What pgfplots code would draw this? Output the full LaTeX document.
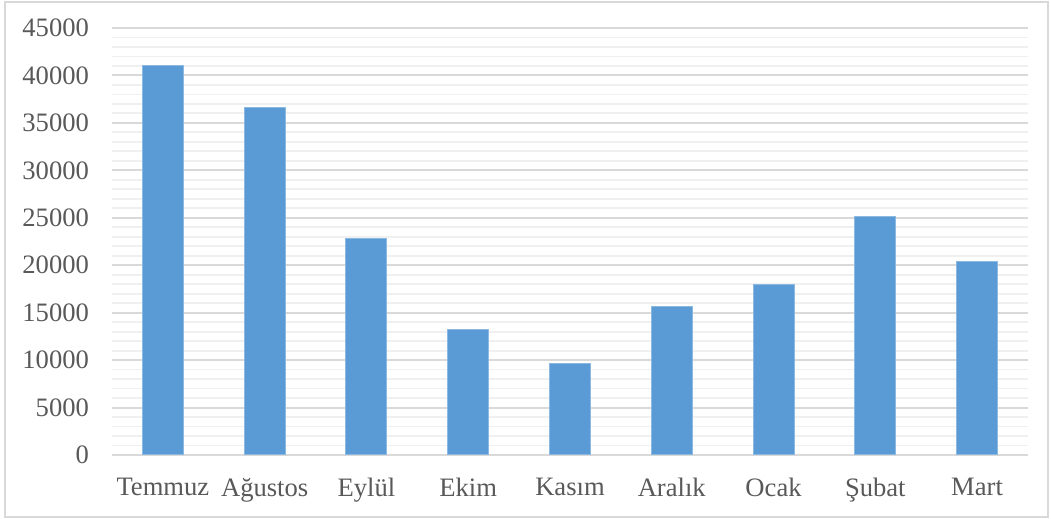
\documentclass[border=0pt]{standalone}
\usepackage{pgfplots}
\pgfplotsset{compat=1.18}
\usepackage{fontspec}
\setmainfont{Liberation Serif}
\definecolor{barblue}{HTML}{5B9BD5}
\definecolor{txtgray}{HTML}{595959}
\definecolor{majgrid}{HTML}{D9D9D9}
\definecolor{mingrid}{HTML}{F0F0F0}
\begin{document}
\begin{tikzpicture}
\useasboundingbox (0,0) rectangle (525.5pt,259.5pt);
\draw[majgrid, line width=0.8pt] (2.5pt,1pt) rectangle (524pt,258.5pt);
\begin{axis}[
  at={(56pt,32pt)}, anchor=south west,
  scale only axis, width=458pt, height=213.5pt,
  xmin=-0.5, xmax=8.5, ymin=0, ymax=45000,
  xtick=data,
  xticklabels={Temmuz, Ağustos, Eylül, Ekim, Kasım, Aralık, Ocak, Şubat, Mart},
  ytick distance=5000, minor y tick num=4,
  ymajorgrids, yminorgrids,
  major grid style={majgrid, line width=1pt},
  minor grid style={mingrid, line width=0.9pt},
  axis line style={draw=none},
  major tick length=0pt, minor tick length=0pt,
  tick label style={font=\fontsize{13.3}{15}\selectfont, text=txtgray},
  /pgf/number format/1000 sep={},
  /pgf/number format/assume math mode=true,
  yticklabel style={xshift=-8pt},
  xticklabel style={yshift=-8pt},
  scaled y ticks=false,
  ybar, bar width=20.5pt,
]
\addplot[fill=barblue, draw=barblue!70!white, line width=0.5pt] coordinates {
(0,41000) (1,36600) (2,22800) (3,13250) (4,9600) (5,15600) (6,18000) (7,25100) (8,20350)
};
\end{axis}
\end{tikzpicture}
\end{document}
